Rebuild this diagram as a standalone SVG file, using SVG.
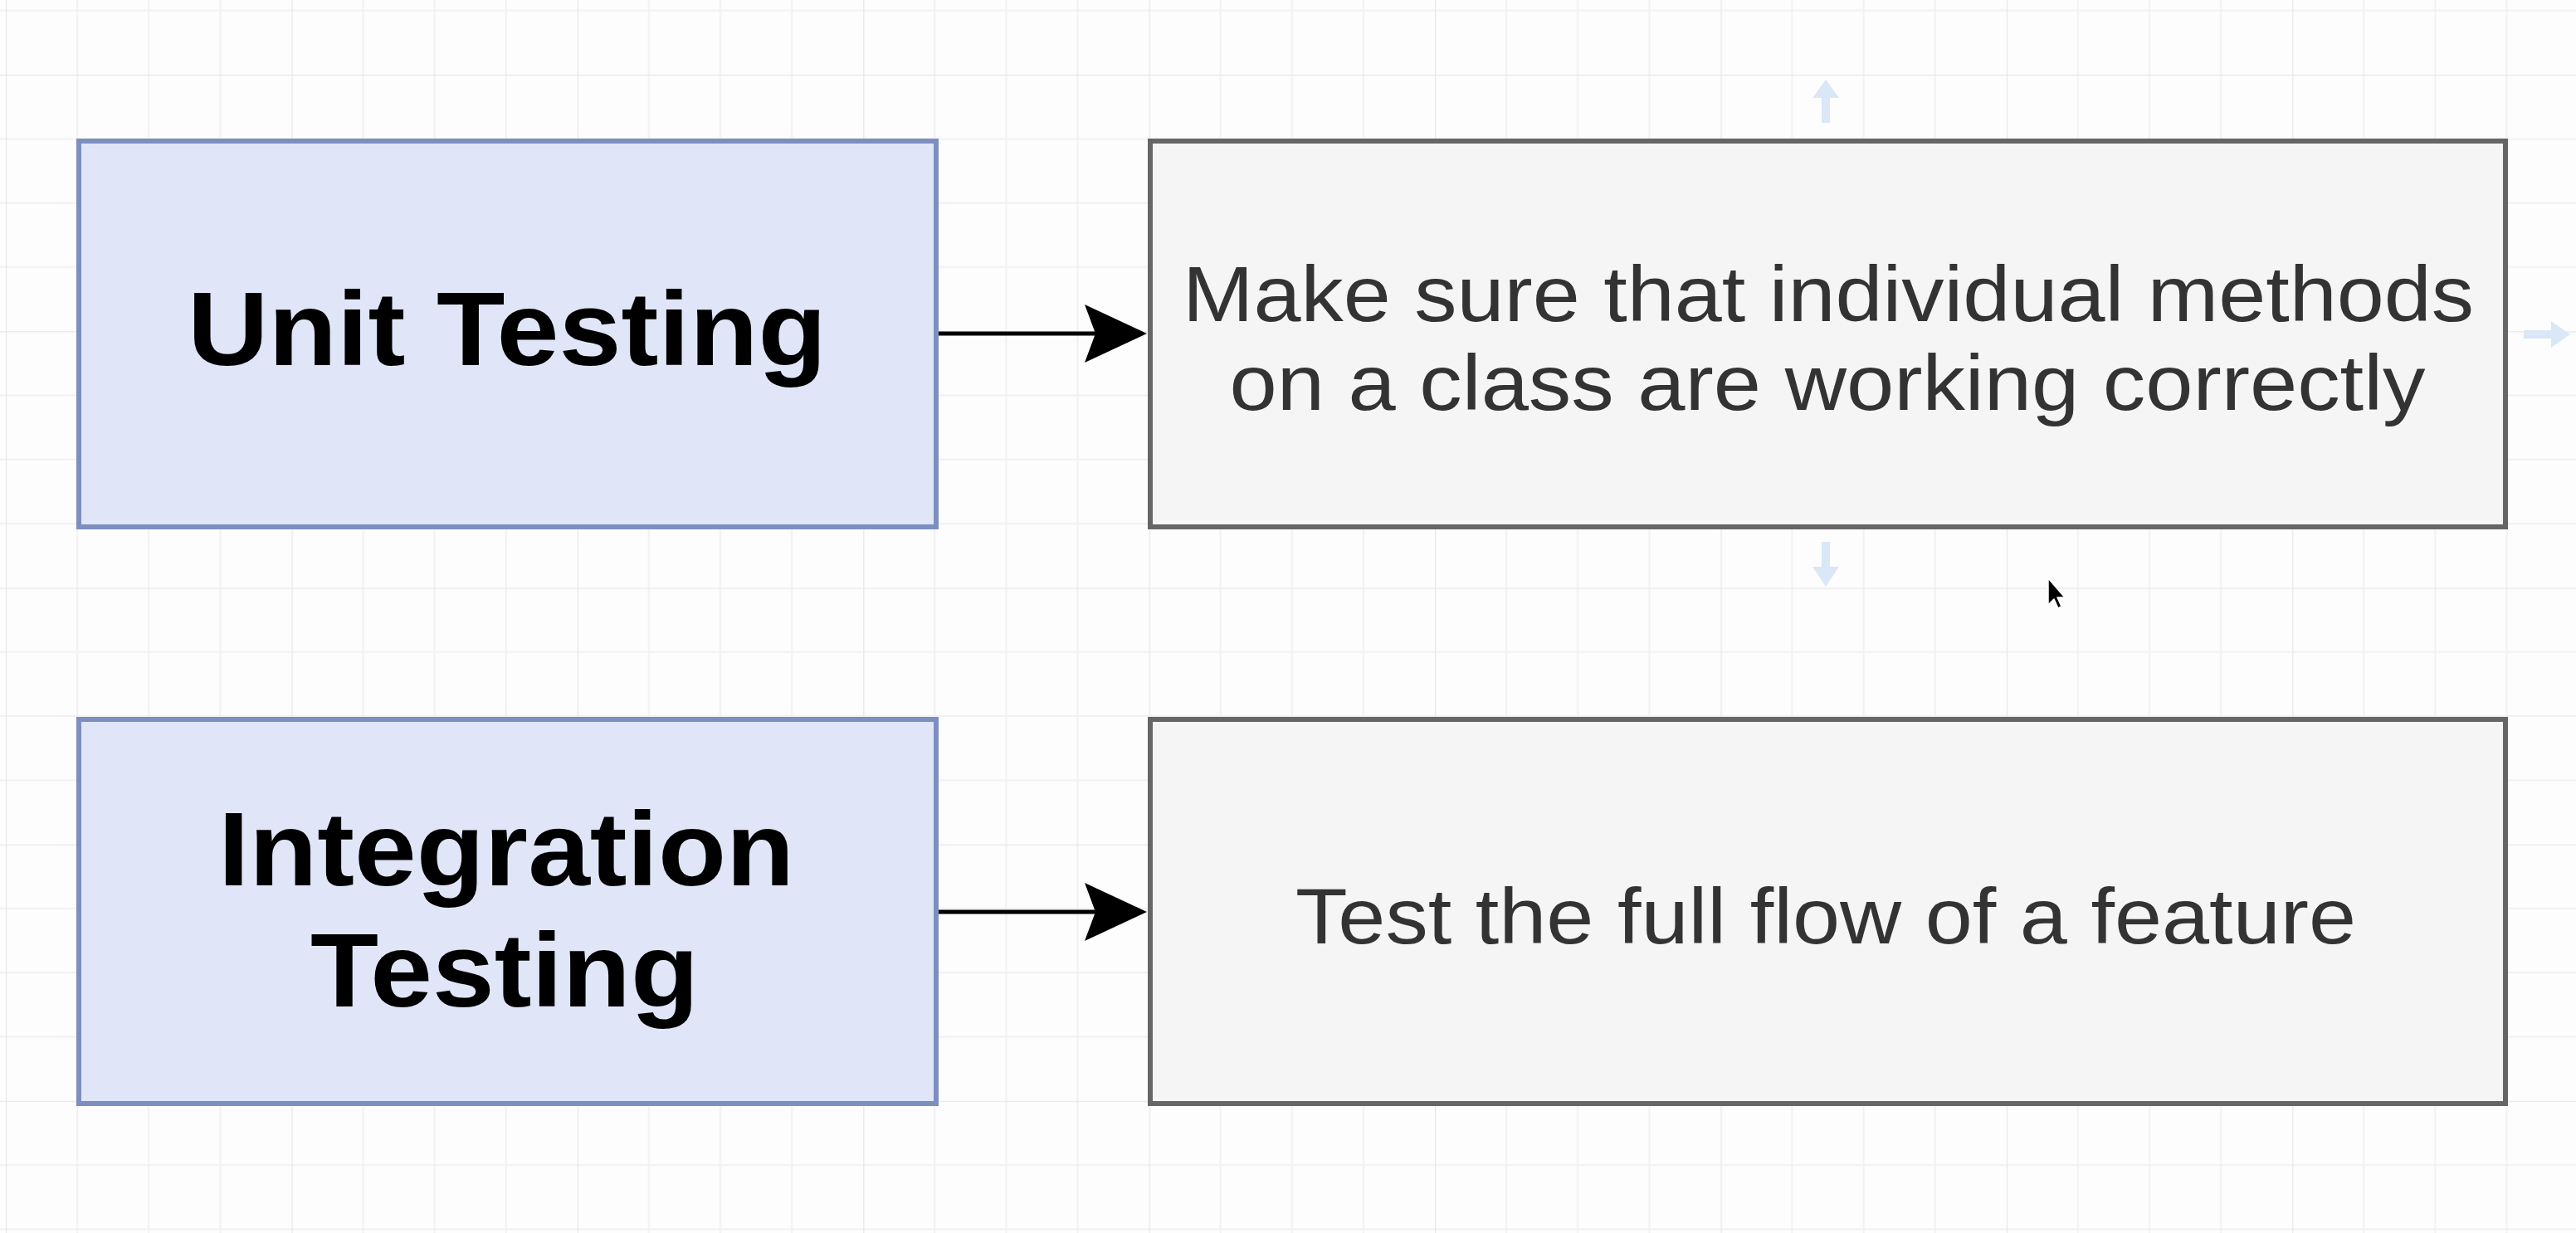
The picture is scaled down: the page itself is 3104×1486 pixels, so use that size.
<svg xmlns="http://www.w3.org/2000/svg" width="3104" height="1486" viewBox="0 0 3104 1486">
  <style>
    .bg { fill: #fdfdfd; }
    .term { fill: #e0e6f8; stroke: #7d8fbf; stroke-width: 6; }
    .desc { fill: #f5f5f5; stroke: #666666; stroke-width: 6; }
    .title { font-family: "Liberation Sans", Arial, Helvetica, sans-serif; font-weight: bold; font-size: 126px; fill: #000000; text-anchor: middle; }
    .body { font-family: "Liberation Sans", Arial, Helvetica, sans-serif; font-size: 95px; fill: #333333; text-anchor: middle; }
    .edge { stroke: #000000; stroke-width: 5; fill: none; }
    .head { fill: #000000; }
    .hover { fill: #d9e7f7; }
  </style>
  <defs>
    <pattern id="grid" x="7" y="90" width="344.4" height="309.2" patternUnits="userSpaceOnUse">
      <g stroke="#f1f1f1" stroke-width="2">
        <line x1="86.1" y1="0" x2="86.1" y2="309.2"/>
        <line x1="172.2" y1="0" x2="172.2" y2="309.2"/>
        <line x1="258.3" y1="0" x2="258.3" y2="309.2"/>
        <line x1="0" y1="77.3" x2="344.4" y2="77.3"/>
        <line x1="0" y1="154.6" x2="344.4" y2="154.6"/>
        <line x1="0" y1="231.9" x2="344.4" y2="231.9"/>
      </g>
      <g stroke="#e8e8e8" stroke-width="2.5">
        <line x1="0" y1="0" x2="0" y2="309.2"/>
        <line x1="0" y1="0" x2="344.4" y2="0"/>
      </g>
    </pattern>
  </defs>

  <rect class="bg" x="0" y="0" width="3104" height="1486"/>
  <rect x="0" y="0" width="3104" height="1486" fill="url(#grid)"/>

  <g id="connectors">
    <line class="edge" x1="1129" y1="402" x2="1322" y2="402"/>
    <polygon class="head" points="1382,402 1307,367 1320,402 1307,437"/>
    <line class="edge" x1="1129" y1="1099" x2="1322" y2="1099"/>
    <polygon class="head" points="1382,1099 1307,1064 1320,1099 1307,1134"/>
  </g>

  <g id="unit-testing">
    <rect class="term" x="95" y="170" width="1033" height="465"/>
    <text class="title" x="611" y="440" textLength="770" lengthAdjust="spacingAndGlyphs">Unit Testing</text>
  </g>

  <g id="unit-description">
    <rect class="desc" x="1386" y="170" width="1633" height="465"/>
    <text class="body" x="2203" y="387" textLength="1556" lengthAdjust="spacingAndGlyphs">Make sure that individual methods</text>
    <text class="body" x="2202" y="494" textLength="1441" lengthAdjust="spacingAndGlyphs">on a class are working correctly</text>
  </g>

  <g id="integration-testing">
    <rect class="term" x="95" y="867" width="1033" height="463"/>
    <text class="title" x="610" y="1067" textLength="694" lengthAdjust="spacingAndGlyphs">Integration</text>
    <text class="title" x="608" y="1213" textLength="468" lengthAdjust="spacingAndGlyphs">Testing</text>
  </g>

  <g id="integration-description">
    <rect class="desc" x="1386" y="867" width="1633" height="463"/>
    <text class="body" x="2200" y="1137" textLength="1278" lengthAdjust="spacingAndGlyphs">Test the full flow of a feature</text>
  </g>

  <g id="hover-arrows">
    <polygon class="hover" points="2200,96 2216,118 2205,118 2205,148 2195,148 2195,118 2184,118"/>
    <polygon class="hover" points="2200,707 2216,683 2205,683 2205,653 2195,653 2195,683 2184,683"/>
    <polygon class="hover" points="3097,403 3074,387 3074,398 3041,398 3041,408 3074,408 3074,419"/>
  </g>

  <g id="cursor">
    <polygon points="2468,697 2468,729 2475,722 2480,733 2484,731 2479,720 2488,720" fill="#000000" stroke="#ffffff" stroke-width="1.5" stroke-linejoin="round"/>
  </g>
</svg>
